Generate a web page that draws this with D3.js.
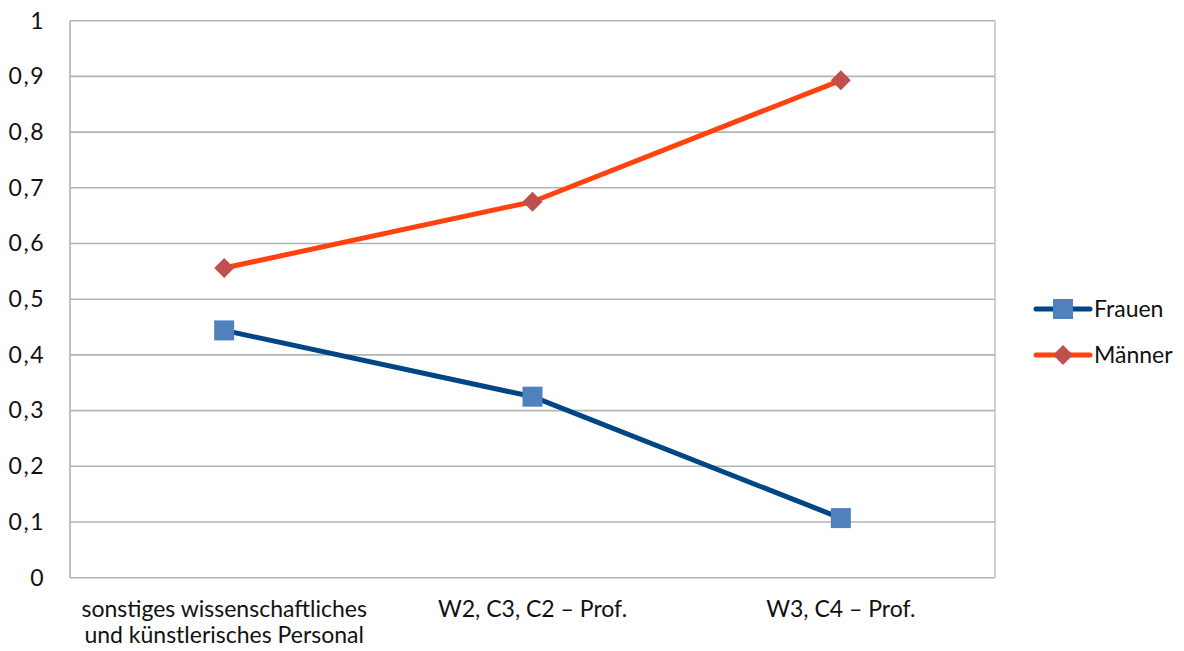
<!DOCTYPE html>
<html>
<head>
<meta charset="utf-8">
<script src="https://cdn.jsdelivr.net/npm/d3@7"></script>
<style>
  html, body { margin: 0; padding: 0; background: #fff; }
  svg { display: block; font-family: Lato, "Noto Sans", sans-serif; }
</style>
</head>
<body>
<svg id="chart" width="1184" height="651"></svg>
<script>
// Anteil von Frauen und Männern je Personalgruppe
const categories = [
  ["sonstiges wissenschaftliches", "und künstlerisches Personal"],
  ["W2, C3, C2 – Prof."],
  ["W3, C4 – Prof."]
];
const frauen = [0.444, 0.325, 0.107];
const maenner = [0.556, 0.675, 0.893];
const yTicks = [0, 0.1, 0.2, 0.3, 0.4, 0.5, 0.6, 0.7, 0.8, 0.9, 1];

const series = [
  { name: "Frauen", values: frauen, line: "#004586", marker: "#4f81bd", shape: "square" },
  { name: "Männer", values: maenner, line: "#ff420e", marker: "#c0504d", shape: "diamond" }
];

const svg = d3.select("#chart");
const m = { left: 70, right: 995, top: 20.7, bottom: 577.7 };
const grid = "#b3b3b3";

const x = d3.scaleBand().domain(d3.range(categories.length)).range([m.left, m.right]);
const y = d3.scaleLinear().domain([0, 1]).range([m.bottom, m.top]);
const fmt = d => String(d).replace(".", ",");

// Gitterlinien
svg.append("g").selectAll("line").data(yTicks).join("line")
  .attr("x1", m.left).attr("x2", m.right)
  .attr("y1", d => y(d)).attr("y2", d => y(d))
  .attr("stroke", grid).attr("stroke-width", 1.6);

// Rahmen links und rechts
svg.append("line").attr("x1", m.left).attr("x2", m.left).attr("y1", m.top).attr("y2", m.bottom)
  .attr("stroke", grid).attr("stroke-width", 1.6);
svg.append("line").attr("x1", m.right).attr("x2", m.right).attr("y1", m.top).attr("y2", m.bottom)
  .attr("stroke", "#c4c4c4").attr("stroke-width", 1.6);

// Y-Achse
const yAxis = d3.axisLeft(y).tickValues(yTicks).tickFormat(fmt).tickSize(0).tickPadding(0);
const ya = svg.append("g").attr("transform", `translate(${m.left - 25},0)`).call(yAxis);
ya.select(".domain").remove();
ya.selectAll("text").attr("font-size", 23).attr("letter-spacing", 1.5).attr("fill", "#111")
  .attr("font-family", "Lato, sans-serif");

// X-Achse
const xa = svg.append("g");
categories.forEach((lines, i) => {
  const t = xa.append("text").attr("text-anchor", "middle")
    .attr("font-size", 23).attr("fill", "#111");
  lines.forEach((s, j) => {
    t.append("tspan").attr("x", x(i) + x.bandwidth() / 2).attr("y", 617 + j * 26).text(s);
  });
});

// Linien und Marker
const cx = i => x(i) + x.bandwidth() / 2;
const line = d3.line().x((d, i) => cx(i)).y(d => y(d));

function marker(g, shape, color, px, py) {
  if (shape === "square") {
    g.append("rect").attr("x", px - 10).attr("y", py - 10).attr("width", 20).attr("height", 20)
      .attr("fill", color);
  } else {
    g.append("path").attr("d", d3.symbol(d3.symbolSquare, 200)())
      .attr("transform", `translate(${px},${py}) rotate(45)`).attr("fill", color);
  }
}

series.forEach(s => {
  const g = svg.append("g");
  g.append("path").datum(s.values).attr("d", line).attr("fill", "none")
    .attr("stroke", s.line).attr("stroke-width", 5).attr("stroke-linejoin", "round");
  s.values.forEach((v, i) => marker(g, s.shape, s.marker, cx(i), y(v)));
});

// Legende
const leg = svg.append("g");
series.forEach((s, i) => {
  const ly = 309 + i * 46;
  leg.append("line").attr("x1", 1036).attr("x2", 1090).attr("y1", ly).attr("y2", ly)
    .attr("stroke", s.line).attr("stroke-width", 5).attr("stroke-linecap", "round");
  marker(leg, s.shape, s.marker, 1063, ly);
  leg.append("text").attr("x", 1094).attr("y", ly + 8).attr("font-size", 23).attr("fill", "#111").text(s.name);
});
</script>
</body>
</html>
